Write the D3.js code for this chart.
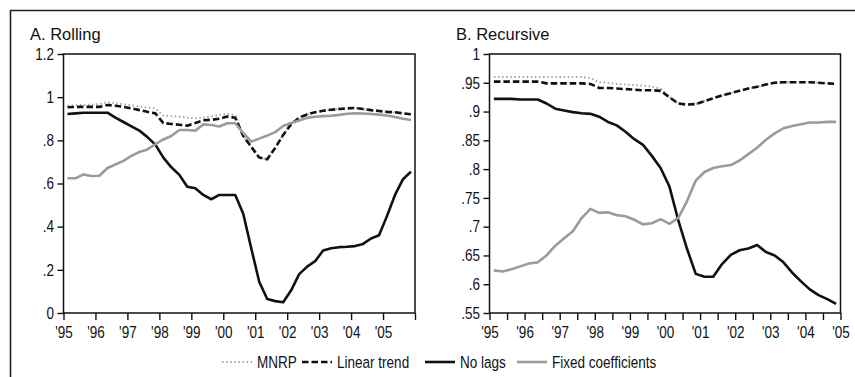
<!DOCTYPE html>
<html>
<head>
<meta charset="utf-8">
<script src="https://cdn.jsdelivr.net/npm/d3@7"></script>
<style>
  body { margin: 0; background: #fff; }
  svg { display: block; font-family: "Liberation Sans", Arial, sans-serif; }
</style>
</head>
<body>
<div id="chart"></div>
<script>
// quarterly observations, plotted at mid-quarter
var quartersA = d3.range(44).map(function (i) { return 1995 + Math.floor(i / 4) + (i % 4) / 4 + 0.125; });
var quartersB = d3.range(40).map(function (i) { return 1995 + Math.floor(i / 4) + (i % 4) / 4 + 0.125; });

// A. Rolling
var mnrpA = [0.960, 0.962, 0.963, 0.965, 0.968, 0.977, 0.972, 0.967, 0.962, 0.957, 0.952, 0.948,
  0.915, 0.912, 0.910, 0.905, 0.902, 0.905, 0.912, 0.918, 0.922, 0.918, 0.822, 0.770,
  0.720, 0.712, 0.765, 0.825, 0.875, 0.905, 0.920, 0.930, 0.937, 0.942, 0.945, 0.948,
  0.950, 0.945, 0.940, 0.936, 0.932, 0.930, 0.925, 0.921];
var trendA = [0.953, 0.955, 0.955, 0.955, 0.955, 0.964, 0.960, 0.955, 0.948, 0.940, 0.932, 0.925,
  0.880, 0.876, 0.872, 0.868, 0.880, 0.893, 0.895, 0.900, 0.910, 0.905, 0.820, 0.770,
  0.720, 0.712, 0.765, 0.825, 0.875, 0.905, 0.920, 0.930, 0.937, 0.942, 0.945, 0.948,
  0.950, 0.945, 0.940, 0.936, 0.932, 0.930, 0.925, 0.921];
var noLagsA = [0.922, 0.925, 0.928, 0.928, 0.928, 0.928, 0.905, 0.885, 0.865, 0.845, 0.815, 0.780,
  0.720, 0.675, 0.640, 0.585, 0.578, 0.547, 0.527, 0.547, 0.547, 0.547, 0.460, 0.300,
  0.145, 0.065, 0.055, 0.050, 0.105, 0.180, 0.215, 0.240, 0.290, 0.300, 0.305, 0.307,
  0.310, 0.320, 0.345, 0.360, 0.450, 0.547, 0.620, 0.655];
var fixedA = [0.624, 0.624, 0.642, 0.635, 0.636, 0.672, 0.688, 0.705, 0.728, 0.746, 0.758, 0.782,
  0.804, 0.820, 0.848, 0.848, 0.845, 0.874, 0.871, 0.864, 0.879, 0.879, 0.834, 0.794,
  0.808, 0.822, 0.838, 0.866, 0.880, 0.892, 0.904, 0.909, 0.912, 0.914, 0.918, 0.923,
  0.925, 0.924, 0.922, 0.919, 0.915, 0.908, 0.900, 0.894];

// B. Recursive
var mnrpB = [0.960, 0.960, 0.960, 0.960, 0.960, 0.960, 0.960, 0.960, 0.960, 0.960, 0.960, 0.958,
  0.951, 0.950, 0.948, 0.947, 0.946, 0.945, 0.943, 0.940, 0.925, 0.914, 0.912, 0.913,
  0.918, 0.923, 0.928, 0.932, 0.936, 0.940, 0.943, 0.947, 0.950, 0.951, 0.951, 0.951,
  0.951, 0.950, 0.949, 0.948];
var trendB = [0.952, 0.952, 0.952, 0.952, 0.952, 0.952, 0.949, 0.949, 0.949, 0.949, 0.949, 0.948,
  0.941, 0.941, 0.940, 0.939, 0.938, 0.937, 0.937, 0.936, 0.925, 0.914, 0.912, 0.913,
  0.918, 0.923, 0.928, 0.932, 0.936, 0.940, 0.943, 0.947, 0.950, 0.951, 0.951, 0.951,
  0.951, 0.950, 0.949, 0.948];
var noLagsB = [0.922, 0.922, 0.922, 0.921, 0.921, 0.921, 0.914, 0.905, 0.902, 0.899, 0.897, 0.896,
  0.891, 0.882, 0.876, 0.865, 0.852, 0.842, 0.823, 0.802, 0.770, 0.712, 0.662, 0.618,
  0.613, 0.613, 0.635, 0.651, 0.659, 0.662, 0.668, 0.656, 0.650, 0.638, 0.620, 0.605,
  0.591, 0.581, 0.574, 0.566];
var fixedB = [0.624, 0.622, 0.626, 0.631, 0.636, 0.638, 0.650, 0.667, 0.680, 0.692, 0.715, 0.731,
  0.724, 0.725, 0.720, 0.718, 0.712, 0.704, 0.706, 0.713, 0.705, 0.715, 0.744, 0.780,
  0.795, 0.802, 0.805, 0.807, 0.815, 0.826, 0.837, 0.851, 0.862, 0.871, 0.875, 0.878,
  0.881, 0.881, 0.882, 0.882];

var yTicksA = [0, 0.2, 0.4, 0.6, 0.8, 1, 1.2];
var yTicksB = [0.55, 0.6, 0.65, 0.7, 0.75, 0.8, 0.85, 0.9, 0.95, 1];
var yearTicksA = d3.range(1995, 2007);
var yearTicksB = d3.range(1995, 2005.5, 0.5);
var seriesNames = ["MNRP", "Linear trend", "No lags", "Fixed coefficients"];

// line styles, in the same order as seriesNames
var styles = [
  { stroke: "#a6a6a6", width: 2, dash: "1.5,2.6" },
  { stroke: "#111", width: 2.6, dash: "6.5,3" },
  { stroke: "#111", width: 2.6, dash: null },
  { stroke: "#9b9b9b", width: 2.6, dash: null }
];

var W = 855, H = 377;
var squeeze = 0.82; // narrow type, like a condensed face
var svg = d3.select("#chart").append("svg").attr("width", W).attr("height", H);

// outer frame: top and left edges only are inside the picture
svg.append("line").attr("x1", 10).attr("y1", 10.5).attr("x2", W).attr("y2", 10.5)
  .attr("stroke", "#222").attr("stroke-width", 1.6);
svg.append("line").attr("x1", 10.5).attr("y1", 10).attr("x2", 10.5).attr("y2", H)
  .attr("stroke", "#222").attr("stroke-width", 1.6);

function fmtY(d) {
  if (d === 0) return "0";
  if (d === 1) return "1";
  return d3.format(".2~f")(d).replace(/^0/, "");
}
function fmtYear(d) { return "'" + String(d).slice(2); }

function panel(opt) {
  var x = d3.scaleLinear().domain(opt.xDomain).range([opt.left, opt.right]);
  var y = d3.scaleLinear().domain(opt.yDomain).range([opt.bottom, opt.top]);
  var g = svg.append("g");

  // title
  g.append("text").attr("x", opt.titleX).attr("y", 40).text(opt.title)
    .attr("font-size", 16.5).attr("fill", "#111");

  // y axis
  var yAxis = d3.axisLeft(y).tickValues(opt.yTicks).tickFormat(fmtY).tickSize(6).tickPadding(3);
  var ya = g.append("g").attr("transform", "translate(" + opt.left + ",0)").call(yAxis);
  ya.select(".domain").remove();
  ya.selectAll("line").attr("stroke", "#111").attr("stroke-width", 1.4);
  ya.selectAll("text").attr("font-size", 16.5).attr("fill", "#111").attr("font-family", null)
    .attr("x", -9.5 / squeeze).attr("transform", "scale(" + squeeze + ",1)");

  // x axis
  var xAxis = d3.axisBottom(x).tickValues(opt.xTicks).tickSize(7).tickPadding(6)
    .tickFormat(function (d) { return (d % 1 === 0 && d <= opt.lastLabel) ? fmtYear(d) : ""; });
  var xa = g.append("g").attr("transform", "translate(0," + opt.bottom + ")").call(xAxis);
  xa.select(".domain").remove();
  xa.selectAll("line").attr("stroke", "#111").attr("stroke-width", 1.4);
  xa.selectAll("text").attr("font-size", 16.5).attr("fill", "#111").attr("font-family", null)
    .attr("transform", "scale(" + squeeze + ",1)");

  // series
  var line = d3.line()
    .x(function (d, i) { return x(opt.dates[i]); })
    .y(function (d) { return y(d); });
  opt.series.forEach(function (s, i) {
    g.append("path").attr("d", line(s)).attr("fill", "none")
      .attr("stroke", styles[i].stroke).attr("stroke-width", styles[i].width)
      .attr("stroke-dasharray", styles[i].dash)
      .attr("stroke-linejoin", "round");
  });

  // plot frame
  g.append("rect").attr("x", opt.left).attr("y", opt.top)
    .attr("width", opt.right - opt.left).attr("height", opt.bottom - opt.top)
    .attr("fill", "none").attr("stroke", "#111").attr("stroke-width", 1.5);
}

panel({
  title: "A. Rolling", titleX: 30,
  left: 63.5, right: 415, top: 54, bottom: 313,
  xDomain: [1995, 2006], yDomain: [0, 1.2],
  yTicks: yTicksA, xTicks: yearTicksA, lastLabel: 2005,
  dates: quartersA, series: [mnrpA, trendA, noLagsA, fixedA]
});
panel({
  title: "B. Recursive", titleX: 456,
  left: 489.5, right: 840.5, top: 54, bottom: 313,
  xDomain: [1995, 2005], yDomain: [0.55, 1],
  yTicks: yTicksB, xTicks: yearTicksB, lastLabel: 2005,
  dates: quartersB, series: [mnrpB, trendB, noLagsB, fixedB]
});

// legend
var legendX = [222, 302, 425, 517];
var legend = svg.append("g");
seriesNames.forEach(function (name, i) {
  legend.append("line").attr("x1", legendX[i]).attr("x2", legendX[i] + 30)
    .attr("y1", 362).attr("y2", 362)
    .attr("stroke", styles[i].stroke).attr("stroke-width", styles[i].width)
    .attr("stroke-dasharray", styles[i].dash);
  legend.append("text")
    .attr("transform", "translate(" + (legendX[i] + 35) + ",367.5) scale(" + squeeze + ",1)")
    .text(name).attr("font-size", 16.5).attr("fill", "#111");
});
</script>
</body>
</html>
